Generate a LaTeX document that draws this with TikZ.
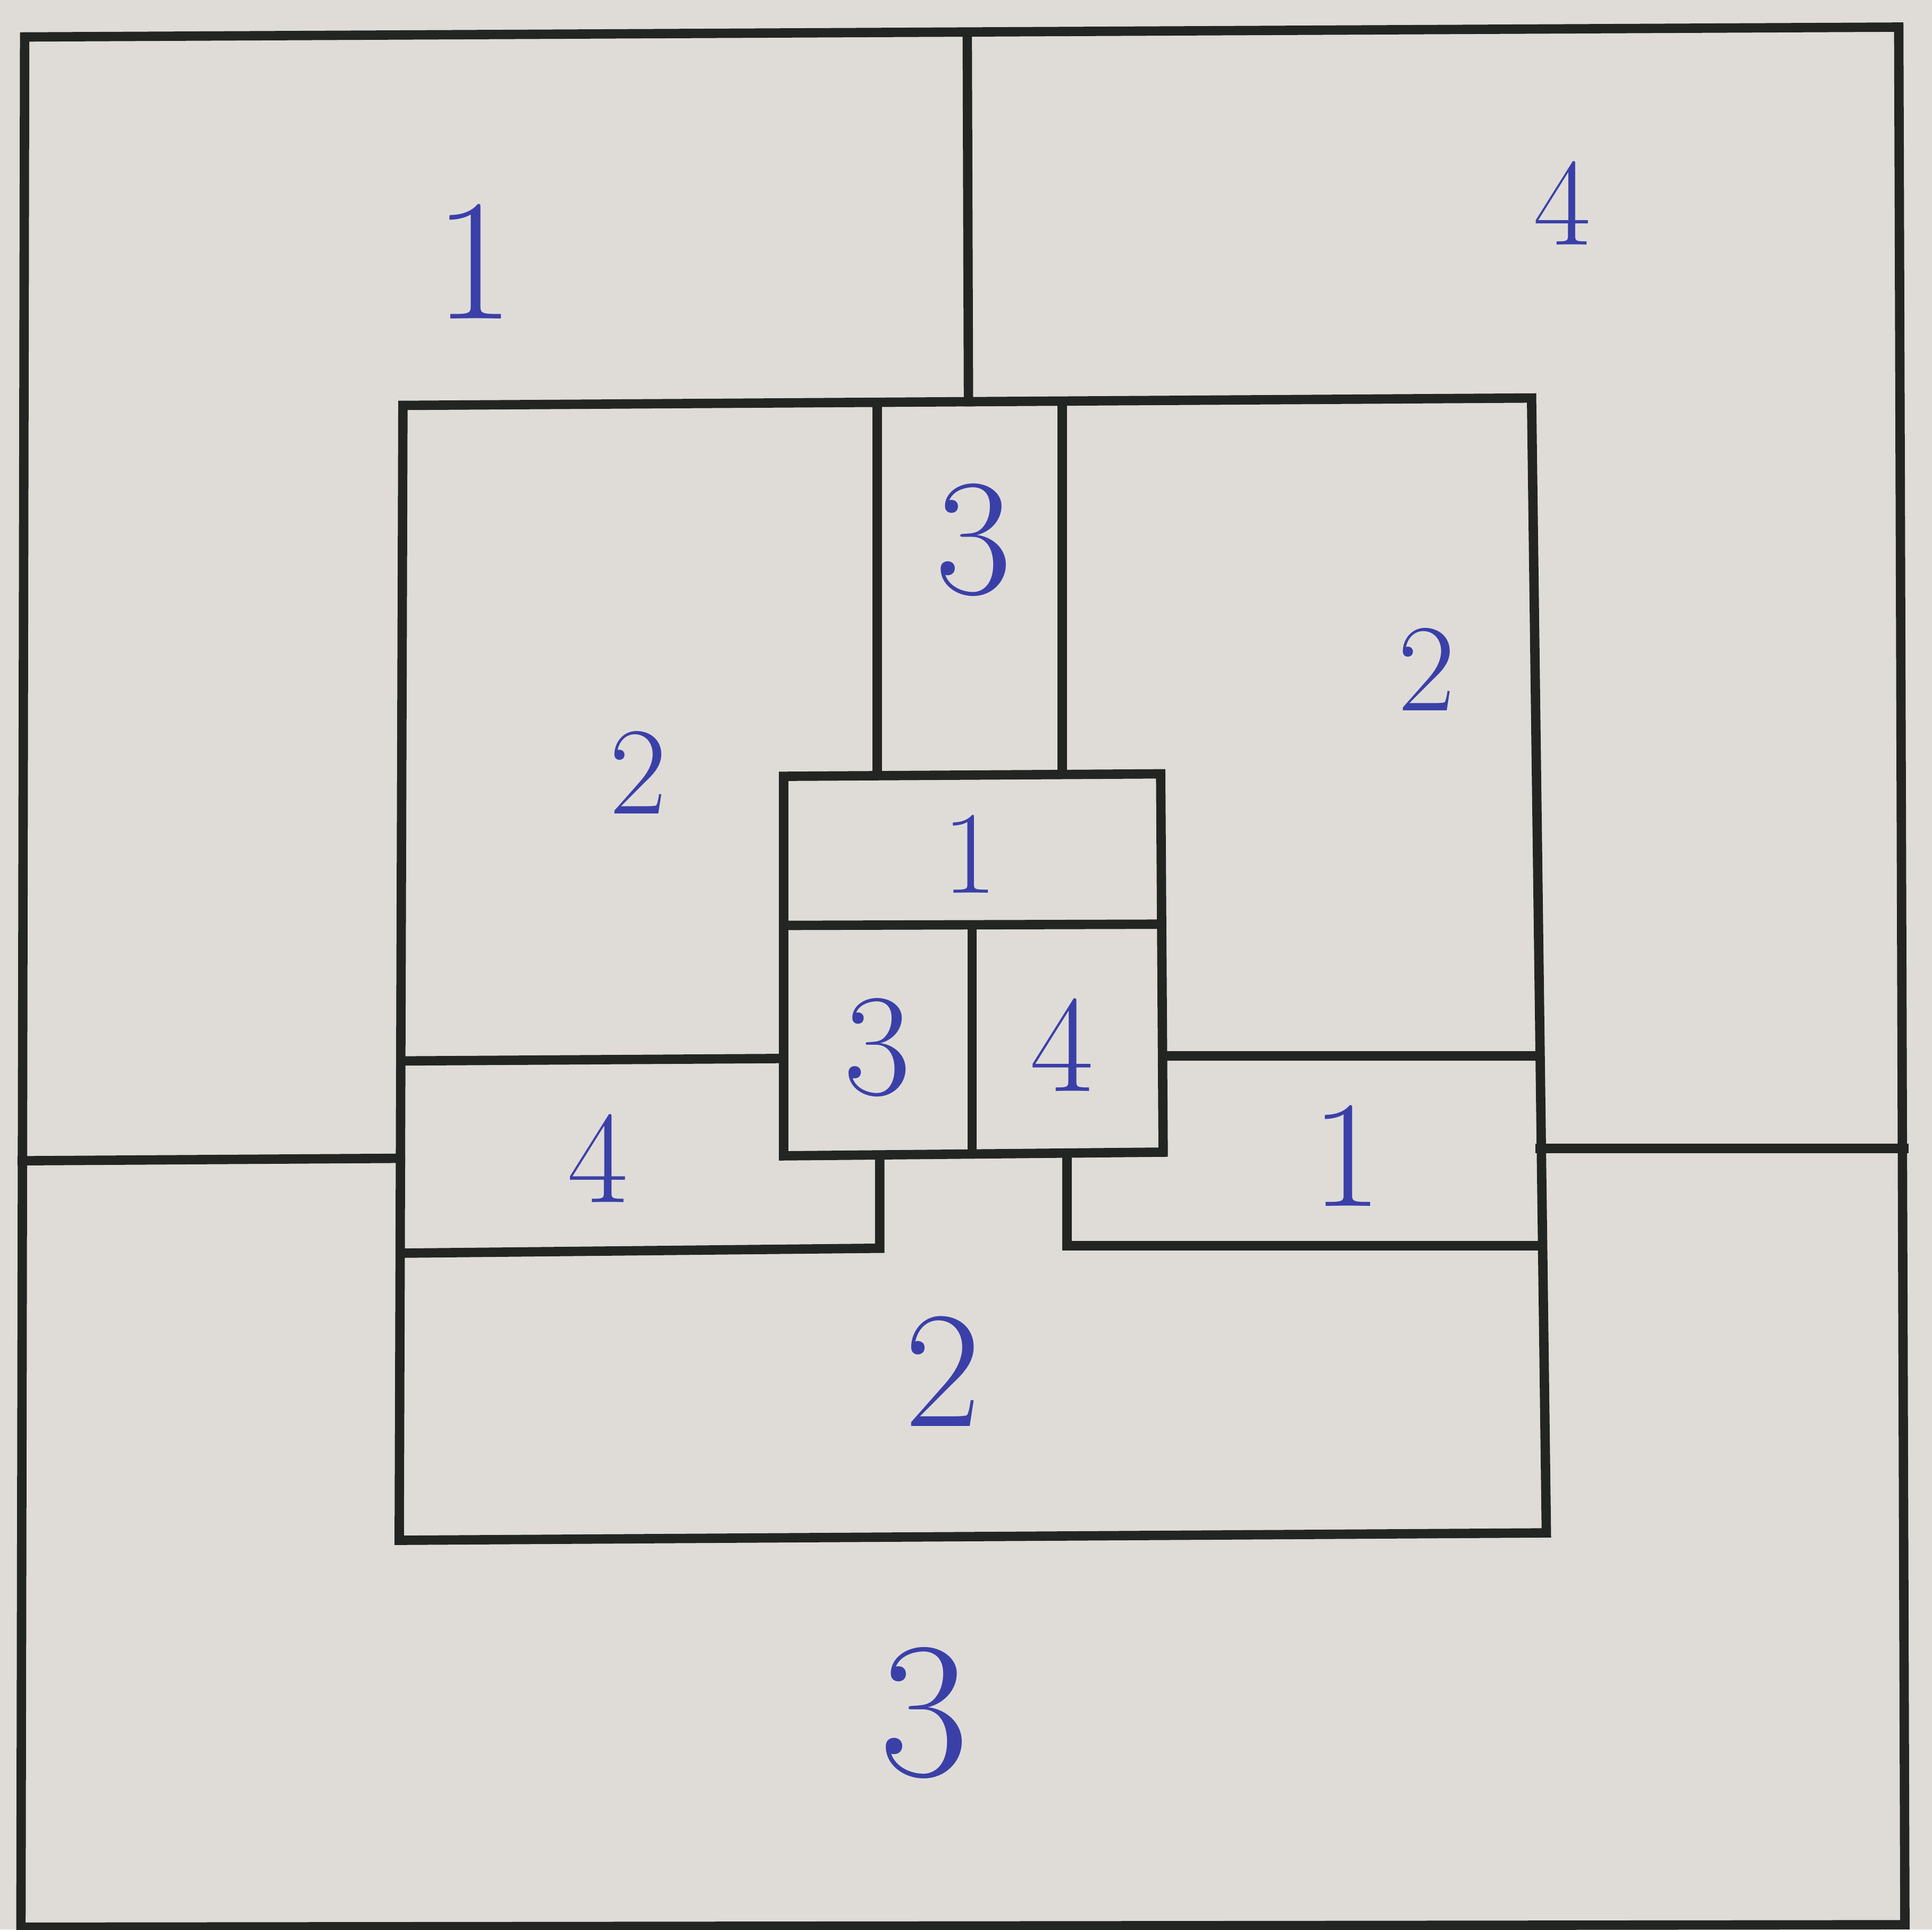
\documentclass[tikz,border=0pt]{standalone}
\usetikzlibrary{calc}
\definecolor{paper}{HTML}{DFDCD8}
\definecolor{ink}{HTML}{222522}
\definecolor{pen}{HTML}{3A40A8}
\tikzset{
  wall/.style={draw=ink, line width=0.19cm, line cap=rect, line join=miter},
  digit/.style={text=pen, font=\fontsize{80}{80}\selectfont, inner sep=0pt, anchor=center}
}
\begin{document}
\begin{tikzpicture}[x=0.025cm, y=-0.025cm]
\fill[paper] (0,0) rectangle (1568,1566);
\useasboundingbox (0,0) rectangle (1568,1566);
% outer square
\coordinate (oTL) at (20,30);
\coordinate (oTR) at (1541,22);
\coordinate (oBR) at (1546,1562);
\coordinate (oBL) at (17,1564);
\draw[wall] (oTL) -- (oTR) -- (oBR) -- (oBL) -- cycle;
% inner rectangle
\coordinate (iTL) at (327,329);
\coordinate (iTR) at (1243,323);
\coordinate (iBR) at (1255,1244);
\coordinate (iBL) at (324,1250);
\draw[wall] (iTL) -- (iTR) -- (iBR) -- (iBL) -- cycle;
% outer dividers
\draw[wall] (785,27) -- (786,326);
\draw[wall] (18,942) -- (325,940);
\draw[wall] (1250,932) -- (1545,932);
% top column
\draw[wall] (712,328) -- (712,628);
\draw[wall] (862,326) -- (862,627);
% centre box
\draw[wall] (636,630) -- (942,628) -- (944,935) -- (636,938) -- cycle;
\draw[wall] (637,751) -- (942,750);
\draw[wall] (789,752) -- (789,935);
% side dividers
\draw[wall] (326,861) -- (636,859);
\draw[wall] (944,857) -- (1246,857);
% lower left and right pockets
\draw[wall] (714,938) -- (714,1013) -- (325,1017);
\draw[wall] (866,936) -- (866,1011) -- (1250,1011);
% handwritten numbers
\node[digit, scale=1.25] (d1) at (385,212) {1};
\node[digit, scale=0.9] (d2) at (1268,165) {4};
\node[digit, scale=1.2] (d3) at (790,438) {3};
\node[digit, scale=0.9] (d4) at (1158,543) {2};
\node[digit, scale=0.9] (d5) at (518,627) {2};
\node[digit, scale=0.85] (d6) at (787,693) {1};
\node[digit, scale=1.05] (d7) at (712,850) {3};
\node[digit, scale=1.0] (d8) at (862,848) {4};
\node[digit, scale=0.95] (d9) at (485,940) {4};
\node[digit, scale=1.1] (d10) at (1093,938) {1};
\node[digit, scale=1.2] (d11) at (765,1113) {2};
\node[digit, scale=1.4] (d12) at (750,1390) {3};
\end{tikzpicture}
\end{document}
